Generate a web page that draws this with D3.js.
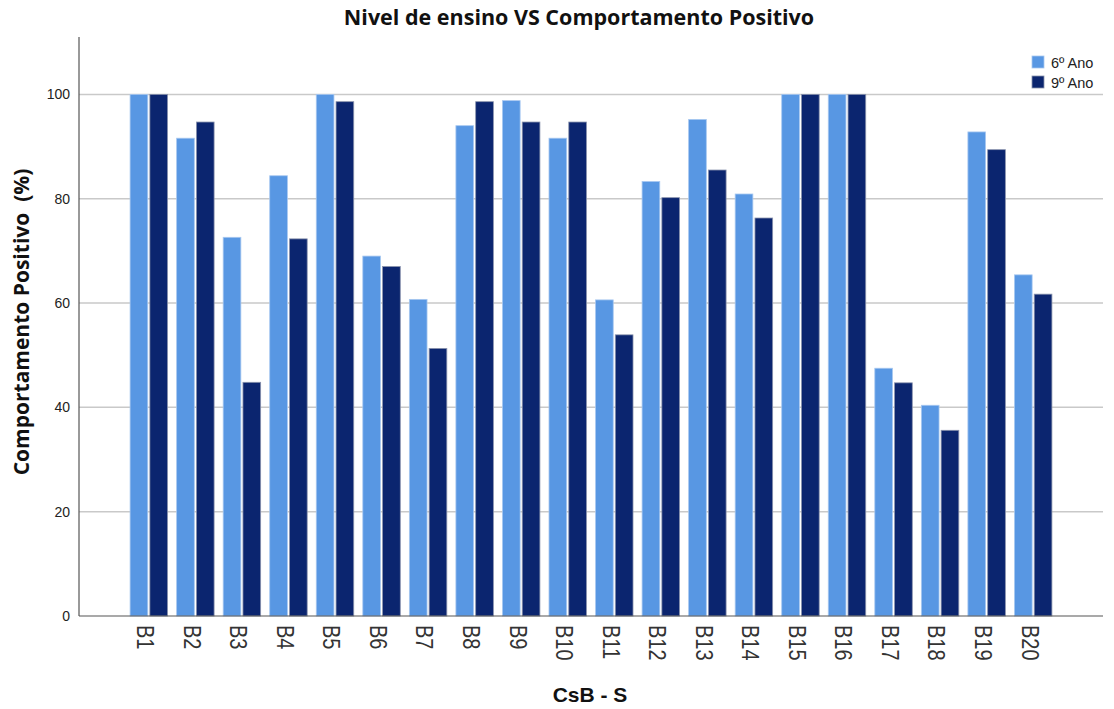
<!DOCTYPE html>
<html>
<head>
<meta charset="utf-8">
<script src="https://cdn.jsdelivr.net/npm/d3@7"></script>
<style>
  html, body { margin: 0; padding: 0; background: #fff; }
  svg { display: block; }
</style>
</head>
<body>
<svg id="chart" width="1114" height="709"></svg>
<script>
// Categories (behaviour items) and the two school years
const categories = ["B1","B2","B3","B4","B5","B6","B7","B8","B9","B10",
                    "B11","B12","B13","B14","B15","B16","B17","B18","B19","B20"];
const seriesNames = ["6º Ano", "9º Ano"];
const ano6 = [100, 91.6, 72.6, 84.4, 100, 69.0, 60.7, 94.0, 98.8, 91.6,
              60.6, 83.3, 95.2, 80.9, 100, 100, 47.5, 40.4, 92.8, 65.4];
const ano9 = [100, 94.7, 44.8, 72.3, 98.6, 67.0, 51.3, 98.6, 94.7, 94.7,
              53.9, 80.2, 85.5, 76.3, 100, 100, 44.7, 35.6, 89.4, 61.7];
const yTicks = [0, 20, 40, 60, 80, 100];

const fills = ["#5897e3", "#0b256f"];
const strokes = ["#a8c8f0", "#8a93ad"];

const svg = d3.select("#chart");
const m = { left: 79, right: 1103, top: 37, bottom: 616 };

const x = d3.scaleBand().domain(categories).range([m.left, m.right])
  .paddingInner(0).paddingOuter(1);
const y = d3.scaleLinear().domain([0, 111]).range([m.bottom, m.top]);

const step = x.step();
const barW = step * 0.38;
const gap = step * 0.045;

// Gridlines
svg.append("g").selectAll("line").data(yTicks.filter(d => d > 0)).join("line")
  .attr("x1", m.left).attr("x2", m.right)
  .attr("y1", d => y(d)).attr("y2", d => y(d))
  .attr("stroke", "#c9c9c9").attr("stroke-width", 1.5);

// Bars
const data = categories.map((c, i) => ({ c, v: [ano6[i], ano9[i]] }));
const groups = svg.append("g").selectAll("g").data(data).join("g")
  .attr("transform", d => `translate(${x(d.c) + step / 2},0)`);
groups.selectAll("rect").data(d => d.v.map((v, k) => ({ v, k }))).join("rect")
  .attr("x", d => d.k === 0 ? -gap / 2 - barW : gap / 2)
  .attr("y", d => y(d.v))
  .attr("width", barW)
  .attr("height", d => y(0) - y(d.v))
  .attr("fill", d => fills[d.k])
  .attr("stroke", d => strokes[d.k])
  .attr("stroke-width", 0.8);

// Y axis
const yAxis = svg.append("g").attr("transform", `translate(${m.left},0)`)
  .call(d3.axisLeft(y).tickValues(yTicks).tickSize(0).tickPadding(9));
yAxis.select(".domain").attr("stroke", "#555").attr("stroke-width", 1.2)
  .attr("d", `M0,${m.top}V${m.bottom}`);
yAxis.selectAll("text").attr("font-family", "Liberation Sans, Arial, sans-serif")
  .attr("font-size", 14).attr("fill", "#222");

// X axis
const xAxis = svg.append("g").attr("transform", `translate(0,${m.bottom})`)
  .call(d3.axisBottom(x).tickSize(0));
xAxis.select(".domain").attr("stroke", "#555").attr("stroke-width", 1.2)
  .attr("d", `M${m.left},0H${m.right}`);
xAxis.selectAll("text")
  .attr("font-family", "Liberation Sans, Arial, sans-serif")
  .attr("font-size", 20).attr("fill", "#333")
  .attr("text-anchor", "start")
  .attr("dy", "0.36em").attr("y", 0)
  .attr("transform", "translate(-3,9) rotate(90) scale(1,1.2)");

// Title
svg.append("text").attr("x", 579).attr("y", 25).attr("text-anchor", "middle")
  .attr("font-family", "Open Sans, sans-serif").attr("font-weight", "bold")
  .attr("font-size", 21.5).attr("fill", "#111")
  .text("Nivel de ensino VS Comportamento Positivo");

// Axis titles
svg.append("text").attr("transform", "translate(22,322) rotate(-90)")
  .attr("text-anchor", "middle").attr("dy", "0.35em")
  .attr("font-family", "Open Sans, sans-serif").attr("font-weight", "bold")
  .attr("font-size", 21).attr("fill", "#111")
  .text("Comportamento Positivo\u00a0\u00a0(%)");

svg.append("text").attr("x", 590).attr("y", 702).attr("text-anchor", "middle")
  .attr("font-family", "Liberation Sans, Arial, sans-serif").attr("font-weight", "bold")
  .attr("font-size", 21).attr("fill", "#111")
  .text("CsB - S");

// Legend
const legend = svg.append("g").attr("transform", "translate(1032,56)");
seriesNames.forEach((name, i) => {
  const g = legend.append("g").attr("transform", `translate(0,${i * 20})`);
  g.append("rect").attr("width", 12).attr("height", 12)
    .attr("fill", fills[i]).attr("stroke", strokes[i]).attr("stroke-width", 0.8);
  g.append("text").attr("x", 19).attr("y", 11.5)
    .attr("font-family", "Liberation Sans, Arial, sans-serif")
    .attr("font-size", 14.5).attr("fill", "#222").text(name);
});
</script>
</body>
</html>
